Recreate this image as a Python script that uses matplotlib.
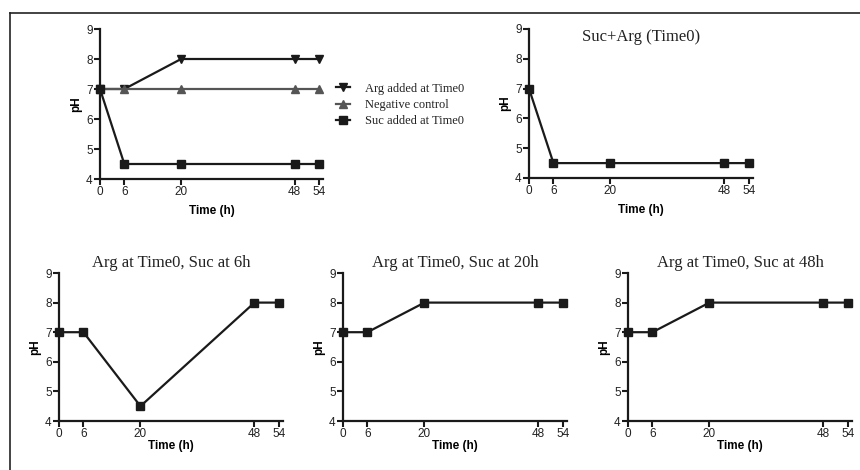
import matplotlib
matplotlib.use("Agg")
import matplotlib.pyplot as plt
from matplotlib.lines import Line2D

time_h = [0, 6, 20, 48, 54]
x_ticks = [0, 6, 20, 48, 54]
y_ticks = [4, 5, 6, 7, 8, 9]

arg_t0 = [7, 7, 8, 8, 8]
neg_ctrl = [7, 7, 7, 7, 7]
suc_t0 = [7, 4.5, 4.5, 4.5, 4.5]

suc_arg_t0 = [7, 4.5, 4.5, 4.5, 4.5]
arg_suc6 = [7, 7, 4.5, 8, 8]
arg_suc20 = [7, 7, 8, 8, 8]
arg_suc48 = [7, 7, 8, 8, 8]

legend_labels = ["Arg added at Time0", "Negative control", "Suc added at Time0"]
titles = ["Suc+Arg (Time0)", "Arg at Time0, Suc at 6h",
          "Arg at Time0, Suc at 20h", "Arg at Time0, Suc at 48h"]

SANS = "Liberation Sans"
SERIF = "Liberation Serif"
BLACK = "#1a1a1a"
GRAY = "#555555"

fig = plt.figure(figsize=(8.6, 4.7), dpi=100)
W, H = 860, 470

def add_ax(left, top, right, bottom):
    return fig.add_axes([left / W, 1 - bottom / H, (right - left) / W, (bottom - top) / H])

def style(ax, xpad):
    ax.set_xlim(0, 55)
    ax.set_ylim(4, 9)
    ax.set_xticks(x_ticks)
    ax.set_yticks(y_ticks)
    for s in ["top", "right"]:
        ax.spines[s].set_visible(False)
    for s in ["left", "bottom"]:
        ax.spines[s].set_linewidth(1.6)
        ax.spines[s].set_color(BLACK)
    ax.tick_params(axis="both", length=4, width=1.5, color=BLACK, labelsize=8.5,
                   pad=1.2, labelcolor="#222222")
    for lab in ax.get_xticklabels() + ax.get_yticklabels():
        lab.set_fontfamily(SANS)
    ax.set_xlabel("Time (h)", fontfamily=SANS, fontweight="bold", fontsize=8.5, labelpad=xpad)
    ax.set_ylabel("pH", fontfamily=SANS, fontweight="bold", fontsize=8.5, labelpad=3)
    ax.patch.set_alpha(0)
    for sp in ax.spines.values():
        sp.set_clip_on(False)

kw = dict(lw=1.6, markersize=6, clip_on=False, zorder=3)

# Panel 1
ax1 = add_ax(100, 29, 323, 179)
l1, = ax1.plot(time_h, arg_t0, color=BLACK, marker="v", **kw)
l2, = ax1.plot(time_h, neg_ctrl, color=GRAY, marker="^", **kw)
l3, = ax1.plot(time_h, suc_t0, color=BLACK, marker="s", **kw)
style(ax1, 5)
leg = ax1.legend([l1, l2, l3], legend_labels, loc="upper left",
                 bbox_to_anchor=(1.035, 0.675), frameon=False, handlelength=1.1,
                 handletextpad=1.2, labelspacing=0.35, borderaxespad=0,
                 prop={"family": SERIF, "size": 9}, markerscale=1.0)
for t in leg.get_texts():
    t.set_color("#222222")

# Panel 2
ax2 = add_ax(529, 29, 753, 178)
ax2.plot(time_h, suc_arg_t0, color=BLACK, marker="s", **kw)
style(ax2, 5)
ax2.text(0.5, 1.0, titles[0], transform=ax2.transAxes, ha="center", va="top",
         fontfamily=SERIF, fontsize=12, color="#222222")

# Bottom panels
for left, data, title in [(59, arg_suc6, titles[1]), (343, arg_suc20, titles[2]),
                          (628, arg_suc48, titles[3])]:
    ax = add_ax(left, 273, left + 224, 421)
    ax.plot(time_h, data, color=BLACK, marker="s", **kw)
    style(ax, 0)
    ax.set_title(title, fontfamily=SERIF, fontsize=12, color="#222222", pad=4)

# Figure border (cropped frame)
fig.add_artist(Line2D([10 / W, 10 / W], [0, 1 - 13 / H], transform=fig.transFigure,
                      color="#222222", lw=1.2))
fig.add_artist(Line2D([10 / W, 1], [1 - 13 / H, 1 - 13 / H], transform=fig.transFigure,
                      color="#222222", lw=1.2))

fig.savefig("out.png", dpi=100)
